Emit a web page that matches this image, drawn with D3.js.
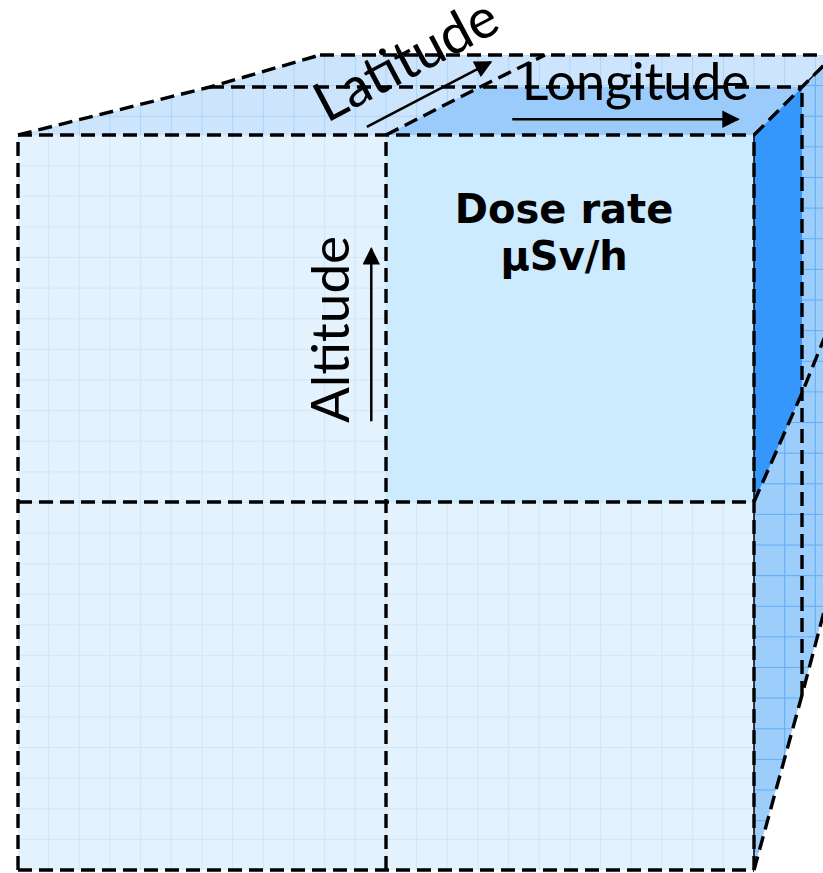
<!DOCTYPE html>
<html>
<head>
<meta charset="utf-8">
<script src="https://cdn.jsdelivr.net/npm/d3@7"></script>
<style>
  html, body { margin: 0; padding: 0; background: #ffffff; }
  svg { display: block; }
</style>
</head>
<body>
<div id="chart"></div>
<script>
// cube divisions (2 x 2 x 2 cells)
var lonSteps = [0, 1, 2];
var altSteps = [0, 1, 2];
var depthSteps = [0, 1, 2];

// the cell that carries the reading
var doseCell = { lon: 1, alt: 1, depth: 0 };
var doseLabel = ["Dose rate", "μSv/h"];

// axis labels, with the arrow ends in cube coordinates [lon, alt, depth]
var axisLabels = ["Longitude", "Latitude", "Altitude"];
var arrowFrom = [[1.27, 2, 0.33], [0.90, 2, 0.17], [0.96, 1.22, 0]];
var arrowTo   = [[1.91, 2, 0.33], [0.83, 2, 1.78], [0.96, 1.69, 0]];
var labelAt   = [[1.54, 2, 0.73], [0.66, 2, 1.33], [0.90, 1.47, 0]];
var labelTurn = [0, -28, -90];
var labelSize = [52, 55, 53];

var width = 823, height = 873;

var svg = d3.select("#chart").append("svg")
    .attr("width", width)
    .attr("height", height)
    .style("background", "#ffffff");

var defs = svg.append("defs");

//  one scale pair for each depth plane of the cube (front, middle, back)
var planes = [
    { x: d3.scaleLinear().domain(lonSteps).range([18, 386, 754]),
      y: d3.scaleLinear().domain(altSteps).range([870, 502, 135]) },
    { x: d3.scaleLinear().domain(lonSteps).range([210, 480, 802]),
      y: d3.scaleLinear().domain(altSteps).range([695, 393, 87]) },
    { x: d3.scaleLinear().domain(lonSteps).range([320, 545, 834]),
      y: d3.scaleLinear().domain(altSteps).range([574, 314, 55]) }
];

// cube coords -> screen point, blending between depth planes
function project(lon, alt, depth)
{
    var i = Math.min(Math.floor(depth), planes.length - 2);
    var t = depth - i;
    var a = planes[i], b = planes[i + 1];
    return [
        a.x(lon) * (1 - t) + b.x(lon) * t,
        a.y(alt) * (1 - t) + b.y(alt) * t
    ];
}

var line = d3.line();

function poly(pts) { return line(pts) + "Z"; }

// faces of the cube
var lonMax = d3.max(lonSteps), altMax = d3.max(altSteps), depthMax = d3.max(depthSteps);

var frontFace = [project(0, 0, 0), project(lonMax, 0, 0), project(lonMax, altMax, 0), project(0, altMax, 0)];
var topFace = [project(0, altMax, 0), project(lonMax, altMax, 0), project(lonMax, altMax, 1), project(lonMax, altMax, depthMax),
               project(0, altMax, depthMax), project(0, altMax, 1)];
var sideFace = [project(lonMax, 0, 0), project(lonMax, altMax, 0), project(lonMax, altMax, 1), project(lonMax, altMax, depthMax),
                project(lonMax, 0, depthMax), project(lonMax, 0, 1)];

// background grid of each face (screen aligned squares)
var gridX = d3.scaleLinear().domain([0, 24]).range([18, 754]);
var gridYFront = d3.scaleLinear().domain([0, 24]).range([135, 870]);
var gridYBack = d3.scaleLinear().domain([0, 24]).range([55, 790]);

var faces = [
    { id: "side",  pts: sideFace,  fill: "#9dcdfb", grid: "#62adf6", gy: gridYBack },
    { id: "top",   pts: topFace,   fill: "#cde5fc", grid: "#acd3f8", gy: gridYBack },
    { id: "front", pts: frontFace, fill: "#e3f2fd", grid: "#cfe7fa", gy: gridYFront }
];

faces.forEach(function (f)
{
    defs.append("clipPath").attr("id", "clip-" + f.id)
        .append("path").attr("d", poly(f.pts));

    var g = svg.append("g").attr("clip-path", "url(#clip-" + f.id + ")");
    g.append("path").attr("d", poly(f.pts)).style("fill", f.fill);

    g.selectAll("line.v").data(d3.range(-1, 28)).enter().append("line")
        .attr("x1", function (d) { return gridX(d); })
        .attr("x2", function (d) { return gridX(d); })
        .attr("y1", 0).attr("y2", height)
        .style("stroke", f.grid).style("stroke-width", 1);

    g.selectAll("line.h").data(d3.range(-3, 28)).enter().append("line")
        .attr("y1", function (d) { return f.gy(d); })
        .attr("y2", function (d) { return f.gy(d); })
        .attr("x1", 0).attr("x2", width)
        .style("stroke", f.grid).style("stroke-width", 1);
});

// the highlighted cell: front, top and side
var c = doseCell;
var cellFaces = [
    { pts: [project(c.lon, c.alt, 0), project(c.lon + 1, c.alt, 0), project(c.lon + 1, c.alt + 1, 0), project(c.lon, c.alt + 1, 0)],
      fill: "#cdebff" },
    { pts: [project(c.lon, c.alt + 1, 0), project(c.lon + 1, c.alt + 1, 0), project(c.lon + 1, c.alt + 1, 1), project(c.lon, c.alt + 1, 1)],
      fill: "#9bcbfb" },
    { pts: [project(c.lon + 1, c.alt, 0), project(c.lon + 1, c.alt + 1, 0), project(c.lon + 1, c.alt + 1, 1), project(c.lon + 1, c.alt, 1)],
      fill: "#3596fb" }
];

svg.append("g").selectAll("path").data(cellFaces).enter().append("path")
    .attr("d", function (d) { return poly(d.pts); })
    .style("fill", function (d) { return d.fill; });

// edges of the cube
var edges = [];
// front face
lonSteps.forEach(function (l) { edges.push(altSteps.map(function (a) { return project(l, a, 0); })); });
altSteps.forEach(function (a) { edges.push(lonSteps.map(function (l) { return project(l, a, 0); })); });
// top face
depthSteps.slice(1).forEach(function (d) { edges.push(lonSteps.map(function (l) { return project(l, altMax, d); })); });
lonSteps.forEach(function (l) { edges.push(depthSteps.map(function (d) { return project(l, altMax, d); })); });
// side face
depthSteps.slice(1).forEach(function (d) { edges.push(altSteps.map(function (a) { return project(lonMax, a, d); })); });
altSteps.slice(0, -1).forEach(function (a) { edges.push(depthSteps.map(function (d) { return project(lonMax, a, d); })); });

// thin solid front right edge under the dashes
svg.append("path")
    .attr("d", line(altSteps.map(function (a) { return project(lonMax, a, 0); })))
    .style("fill", "none").style("stroke", "#000").style("stroke-width", 1.5);
svg.append("path")
    .attr("d", line([project(lonMax, altMax, 1), project(lonMax, altMax, depthMax)]))
    .style("fill", "none").style("stroke", "#000").style("stroke-width", 1.5);

svg.append("g").selectAll("path").data(edges).enter().append("path")
    .attr("d", function (d) { return line(d); })
    .style("fill", "none")
    .style("stroke", "#000")
    .style("stroke-width", 3.4)
    .style("stroke-dasharray", "14,7");

// arrows
defs.append("marker")
    .attr("id", "head")
    .attr("viewBox", "0 0 10 10")
    .attr("refX", 9).attr("refY", 5)
    .attr("markerWidth", 8).attr("markerHeight", 7)
    .attr("markerUnits", "strokeWidth")
    .attr("orient", "auto")
    .append("path").attr("d", "M0,0L10,5L0,10Z").style("fill", "#000");

svg.append("g").selectAll("path").data(arrowFrom).enter().append("path")
    .attr("d", function (d, i) {
        return line([project.apply(null, d), project.apply(null, arrowTo[i])]);
    })
    .style("stroke", "#000").style("stroke-width", 2.5)
    .attr("marker-end", "url(#head)");

svg.append("g").selectAll("text").data(axisLabels).enter().append("text")
    .attr("transform", function (d, i) {
        var p = project.apply(null, labelAt[i]);
        return "translate(" + p[0] + "," + p[1] + ") rotate(" + labelTurn[i] + ")";
    })
    .attr("text-anchor", "middle")
    .style("font-family", "Lato, 'Liberation Sans', sans-serif")
    .style("font-size", function (d, i) { return labelSize[i] + "px"; })
    .style("fill", "#000")
    .text(function (d) { return d; });

// reading inside the highlighted cell
var mid = project(c.lon + 0.484, c.alt + 0.76, 0);
svg.append("g").selectAll("text").data(doseLabel).enter().append("text")
    .attr("x", mid[0])
    .attr("y", function (d, i) { return mid[1] + i * 47; })
    .attr("text-anchor", "middle")
    .style("font-family", "'DejaVu Sans', sans-serif")
    .style("font-weight", "bold")
    .style("font-size", "40px")
    .style("fill", "#000")
    .text(function (d) { return d; });
</script>
</body>
</html>
